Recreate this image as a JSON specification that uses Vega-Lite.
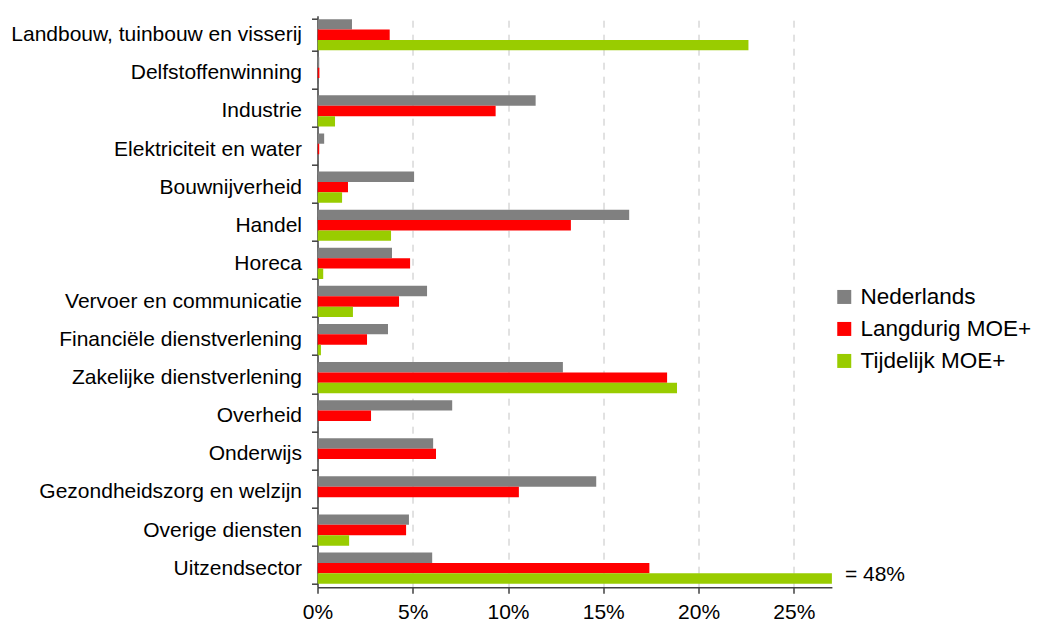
{
  "$schema": "https://vega.github.io/schema/vega-lite/v6.json",
  "width": 514.4,
  "height": 571.5,
  "autosize": {"type": "none"},
  "padding": {"left": 317.5, "top": 15.7, "right": 205.1, "bottom": 40.8},
  "background": "white",
  "config": {"view": {"stroke": null}, "font": "Liberation Sans"},
  "data": {
    "values": [
      {"sector": "Landbouw, tuinbouw en visserij", "series": "Nederlands", "value": 1.81},
      {"sector": "Landbouw, tuinbouw en visserij", "series": "Langdurig MOE+", "value": 3.79},
      {"sector": "Landbouw, tuinbouw en visserij", "series": "Tijdelijk MOE+", "value": 22.62},
      {"sector": "Delfstoffenwinning", "series": "Nederlands", "value": 0.09},
      {"sector": "Delfstoffenwinning", "series": "Langdurig MOE+", "value": 0.1},
      {"sector": "Delfstoffenwinning", "series": "Tijdelijk MOE+", "value": 0},
      {"sector": "Industrie", "series": "Nederlands", "value": 11.45},
      {"sector": "Industrie", "series": "Langdurig MOE+", "value": 9.35},
      {"sector": "Industrie", "series": "Tijdelijk MOE+", "value": 0.92},
      {"sector": "Elektriciteit en water", "series": "Nederlands", "value": 0.35},
      {"sector": "Elektriciteit en water", "series": "Langdurig MOE+", "value": 0.09},
      {"sector": "Elektriciteit en water", "series": "Tijdelijk MOE+", "value": 0},
      {"sector": "Bouwnijverheid", "series": "Nederlands", "value": 5.07},
      {"sector": "Bouwnijverheid", "series": "Langdurig MOE+", "value": 1.6},
      {"sector": "Bouwnijverheid", "series": "Tijdelijk MOE+", "value": 1.29},
      {"sector": "Handel", "series": "Nederlands", "value": 16.36},
      {"sector": "Handel", "series": "Langdurig MOE+", "value": 13.3},
      {"sector": "Handel", "series": "Tijdelijk MOE+", "value": 3.86},
      {"sector": "Horeca", "series": "Nederlands", "value": 3.91},
      {"sector": "Horeca", "series": "Langdurig MOE+", "value": 4.86},
      {"sector": "Horeca", "series": "Tijdelijk MOE+", "value": 0.3},
      {"sector": "Vervoer en communicatie", "series": "Nederlands", "value": 5.75},
      {"sector": "Vervoer en communicatie", "series": "Langdurig MOE+", "value": 4.28},
      {"sector": "Vervoer en communicatie", "series": "Tijdelijk MOE+", "value": 1.86},
      {"sector": "Financiële dienstverlening", "series": "Nederlands", "value": 3.7},
      {"sector": "Financiële dienstverlening", "series": "Langdurig MOE+", "value": 2.6},
      {"sector": "Financiële dienstverlening", "series": "Tijdelijk MOE+", "value": 0.18},
      {"sector": "Zakelijke dienstverlening", "series": "Nederlands", "value": 12.88},
      {"sector": "Zakelijke dienstverlening", "series": "Langdurig MOE+", "value": 18.35},
      {"sector": "Zakelijke dienstverlening", "series": "Tijdelijk MOE+", "value": 18.87},
      {"sector": "Overheid", "series": "Nederlands", "value": 7.07},
      {"sector": "Overheid", "series": "Langdurig MOE+", "value": 2.81},
      {"sector": "Overheid", "series": "Tijdelijk MOE+", "value": 0},
      {"sector": "Onderwijs", "series": "Nederlands", "value": 6.07},
      {"sector": "Onderwijs", "series": "Langdurig MOE+", "value": 6.22},
      {"sector": "Onderwijs", "series": "Tijdelijk MOE+", "value": 0},
      {"sector": "Gezondheidszorg en welzijn", "series": "Nederlands", "value": 14.63},
      {"sector": "Gezondheidszorg en welzijn", "series": "Langdurig MOE+", "value": 10.57},
      {"sector": "Gezondheidszorg en welzijn", "series": "Tijdelijk MOE+", "value": 0},
      {"sector": "Overige diensten", "series": "Nederlands", "value": 4.8},
      {"sector": "Overige diensten", "series": "Langdurig MOE+", "value": 4.65},
      {"sector": "Overige diensten", "series": "Tijdelijk MOE+", "value": 1.66},
      {"sector": "Uitzendsector", "series": "Nederlands", "value": 6.02},
      {"sector": "Uitzendsector", "series": "Langdurig MOE+", "value": 17.42},
      {"sector": "Uitzendsector", "series": "Tijdelijk MOE+", "value": 48, "note": "= 48%"}
    ]
  },
  "encoding": {
    "y": {
      "field": "sector",
      "type": "nominal",
      "sort": null,
      "scale": {"paddingInner": 0.18, "paddingOuter": 0.09},
      "axis": {
        "title": null,
        "tickBand": "extent",
        "tickSize": 6,
        "tickColor": "#404040",
        "tickWidth": 1.5,
        "domainColor": "#404040",
        "domainWidth": 1.5,
        "labelFontSize": 21,
        "labelColor": "black",
        "labelPadding": 10,
        "labelLimit": 400,
        "grid": false
      }
    },
    "yOffset": {
      "field": "series",
      "type": "nominal",
      "sort": ["Nederlands", "Langdurig MOE+", "Tijdelijk MOE+"],
      "scale": {"paddingInner": 0, "paddingOuter": 0}
    }
  },
  "layer": [
    {
      "mark": {"type": "bar", "clip": true},
      "encoding": {
        "x": {
          "field": "value",
          "type": "quantitative",
          "scale": {"domain": [0, 27], "nice": false, "zero": true},
          "axis": {
            "title": null,
            "values": [0, 5, 10, 15, 20, 25],
            "labelExpr": "datum.value + '%'",
            "labelFlush": false,
            "labelFontSize": 21,
            "labelColor": "black",
            "labelPadding": 8,
            "tickSize": 6,
            "tickColor": "#404040",
            "tickWidth": 1.5,
            "domainColor": "#404040",
            "domainWidth": 1.5,
            "grid": true,
            "gridDash": [7, 7],
            "gridColor": "#c4c4c4",
            "gridWidth": 1
          }
        },
        "color": {
          "field": "series",
          "type": "nominal",
          "scale": {
            "domain": ["Nederlands", "Langdurig MOE+", "Tijdelijk MOE+"],
            "range": ["#808080", "#ff0000", "#99cc00"]
          },
          "legend": {
            "title": null,
            "orient": "none",
            "legendX": 515.5,
            "legendY": 270,
            "padding": 0,
            "symbolType": "square",
            "symbolSize": 196,
            "symbolStrokeWidth": 0,
            "symbolOpacity": 1,
            "labelFontSize": 22.5,
            "labelColor": "black",
            "labelOffset": 5,
            "rowPadding": 9,
            "labelLimit": 400
          }
        }
      }
    },
    {
      "transform": [{"filter": "datum.note != null"}],
      "mark": {"type": "text", "align": "left", "baseline": "middle", "dx": 13, "dy": -4, "fontSize": 21, "color": "black"},
      "encoding": {
        "x": {"datum": 27, "type": "quantitative"},
        "text": {"field": "note"}
      }
    }
  ]
}
